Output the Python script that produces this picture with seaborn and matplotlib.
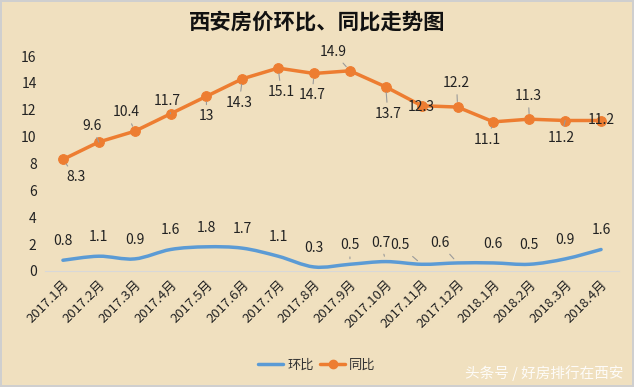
import numpy as np
import pandas as pd
import seaborn as sns
import matplotlib
matplotlib.use("Agg")
import matplotlib.pyplot as plt
from matplotlib.path import Path
from matplotlib.patches import PathPatch
from matplotlib.lines import Line2D

# ---- data ----
months = ["2017.1月", "2017.2月", "2017.3月", "2017.4月", "2017.5月", "2017.6月",
          "2017.7月", "2017.8月", "2017.9月", "2017.10月", "2017.11月", "2017.12月",
          "2018.1月", "2018.2月", "2018.3月", "2018.4月"]
huanbi = [0.8, 1.1, 0.9, 1.6, 1.8, 1.7, 1.1, 0.3, 0.5, 0.7, 0.5, 0.6, 0.6, 0.5, 0.9, 1.6]
tongbi = [8.3, 9.6, 10.4, 11.7, 13, 14.3, 15.1, 14.7, 14.9, 13.7, 12.3, 12.2, 11.1, 11.3, 11.2, 11.2]
yticks = [0, 2, 4, 6, 8, 10, 12, 14, 16]

# label offsets in pixels (layout only)
tb_off = [(13, -18), (-7, 16), (-8, 19), (-3, 13), (0, -20), (-3, -24), (3, -24), (-2, -22),
          (-17, 19), (2, -27), (0, -1), (-1, 24), (-6, -18), (-1, 23), (-4, -17), (0, 0)]
hb_off = [(0, 19)] * 9 + [(-5, 19), (-22, 19), (-18, 20)] + [(0, 19)] * 4
hb_leader = [8, 9, 10, 11]

BG = "#F0E0BF"
ORANGE = "#ED7D31"
BLUE = "#5B9BD5"
FONT = ["Noto Sans CJK SC", "DejaVu Sans"]

sns.set_theme(style="white")
plt.rcParams["font.family"] = FONT

fig = plt.figure(figsize=(6.34, 3.87), dpi=100)
fig.patch.set_facecolor(BG)
fig.patch.set_edgecolor("#cfcfcf")
fig.patch.set_linewidth(1.5)

ax = fig.add_axes([45 / 634, 1 - 271 / 387, (619 - 45) / 634, (271 - 56) / 387])
ax.set_facecolor("none")

df = pd.DataFrame({"x": np.arange(len(months)), "tb": tongbi, "hb": huanbi})

# orange line with markers
sns.lineplot(data=df, x="x", y="tb", ax=ax, color=ORANGE, linewidth=2.5,
             marker="o", markersize=7, markeredgecolor=ORANGE, zorder=3)

# blue smoothed line (Catmull-Rom -> cubic Bezier through the data points)
P = np.column_stack([df["x"].values, df["hb"].values]).astype(float)
verts = [tuple(P[0])]
codes = [Path.MOVETO]
n = len(P)
for i in range(n - 1):
    p0 = P[i - 1] if i > 0 else P[i]
    p1 = P[i]
    p2 = P[i + 1]
    p3 = P[i + 2] if i + 2 < n else P[i + 1]
    c1 = p1 + (p2 - p0) / 6.0
    c2 = p2 - (p3 - p1) / 6.0
    verts += [tuple(c1), tuple(c2), tuple(p2)]
    codes += [Path.CURVE4] * 3
ax.add_patch(PathPatch(Path(verts, codes), facecolor="none", edgecolor=BLUE,
                       linewidth=2.5, capstyle="round", zorder=3))

ax.set_xlim(-0.5, len(months) - 0.5)
ax.set_ylim(0, 16)
ax.set_yticks(yticks)
ax.set_yticklabels([str(v) for v in yticks], fontsize=10, color="#222222")
ax.set_xticks(df["x"].values)
ax.set_xticklabels(months, rotation=45, ha="right", rotation_mode="anchor",
                   fontsize=9.5, color="#222222")
ax.tick_params(axis="both", length=0, pad=6)
ax.tick_params(axis="x", pad=5)
ax.set_xlabel("")
ax.set_ylabel("")
for s in ["top", "right", "left"]:
    ax.spines[s].set_visible(False)
ax.spines["bottom"].set_color("#d8d8d8")
ax.spines["bottom"].set_linewidth(0.8)

leader = dict(arrowstyle="-", color="#9a9a9a", lw=0.8, shrinkA=1, shrinkB=4)

for i, v in enumerate(tongbi):
    off = tb_off[i]
    props = leader if np.hypot(*off) > 10 else None
    ax.annotate(f"{v:g}", (i, v), xytext=off, textcoords="offset pixels",
                ha="center", va="center", fontsize=10, color="#222222",
                arrowprops=props, zorder=4)
for i, v in enumerate(huanbi):
    props = leader if i in hb_leader else None
    ax.annotate(f"{v:g}", (i, v), xytext=hb_off[i], textcoords="offset pixels",
                ha="center", va="center", fontsize=10, color="#222222",
                arrowprops=props, zorder=4)

fig.text(0.5, 1 - 22 / 387, "西安房价环比、同比走势图", ha="center", va="center",
         fontsize=15.4, fontweight="bold", color="#111111")

handles = [Line2D([0], [0], color=BLUE, lw=2.5),
           Line2D([0], [0], color=ORANGE, lw=2.5, marker="o", markersize=6)]
fig.legend(handles, ["环比", "同比"], loc="center", ncol=2,
           bbox_to_anchor=(0.5, 1 - 365 / 387), frameon=False, fontsize=9.5,
           handlelength=1.9, handletextpad=0.3, columnspacing=0.5,
           labelcolor="#333333")

fig.text(0.983, 1 - 373 / 387, "头条号 / 好房排行在西安", ha="right", va="center",
         fontsize=10.5, color="white", alpha=0.9)

fig.savefig("out.png", dpi=100, facecolor=fig.get_facecolor(),
            edgecolor=fig.get_edgecolor())
